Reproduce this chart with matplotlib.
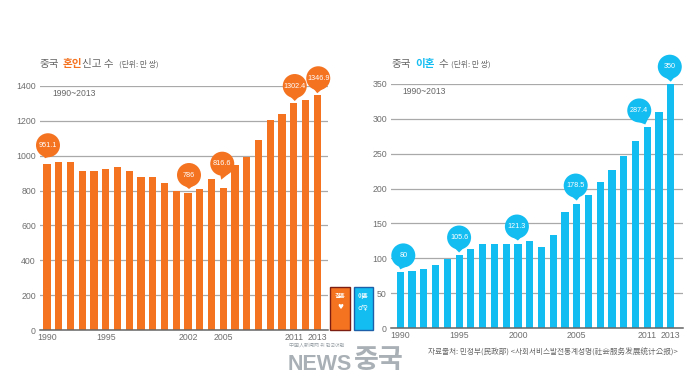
import matplotlib
matplotlib.use("Agg")
import matplotlib.pyplot as plt
from matplotlib.patches import PathPatch, Rectangle
from matplotlib.path import Path
from matplotlib.transforms import Affine2D, ScaledTranslation

W, H = 699, 377
LATIN = ['Liberation Sans', 'Noto Sans CJK KR']
CJK = ['Noto Sans CJK KR', 'DejaVu Sans']
plt.rcParams['font.family'] = LATIN

years = list(range(1990, 2014))
marriages = [951.1, 965, 965, 912, 912, 925, 935, 912, 880, 880, 845, 800,
             786, 810, 867, 816.6, 945, 991, 1090, 1205, 1240, 1302.4, 1320, 1346.9]
divorces = [80, 82, 85, 91, 99, 105.6, 113, 120, 120, 120, 121.3, 125,
            117, 133, 166, 178.5, 191, 210, 227, 247, 268, 287.4, 310, 350]
marriage_ticks = [0, 200, 400, 600, 800, 1000, 1200, 1400]
divorce_ticks = [0, 50, 100, 150, 200, 250, 300, 350]
marriage_years = [1990, 1995, 2002, 2005, 2011, 2013]
divorce_years = [1990, 1995, 2000, 2005, 2011, 2013]
marriage_callouts = {1990: '951.1', 2002: '786', 2005: '816.6', 2011: '1302.4', 2013: '1346.9'}
divorce_callouts = {1990: '80', 1995: '105.6', 2000: '121.3', 2005: '178.5', 2011: '287.4', 2013: '350'}

# pixel offsets (upward) from bar top: circle centre, tail tip
marriage_offsets = {1990: ((1, 19), (-2, 6)), 2002: ((1, 18), (1, 4)), 2005: ((-1, 24), (-2, 8)),
                    2011: ((1, 17), (1, 2)), 2013: ((1, 17), (0, 2))}
divorce_offsets = {1990: ((3, 17), (0, 3)), 1995: ((0, 17), (0, 2)), 2000: ((-1, 17), (0, 3)),
                   2005: ((-1, 18), (0, 3)), 2011: ((-8, 17), (-2, 3)), 2013: ((-1, 17), (0, 2))}

ORANGE = '#f47321'
BLUE = '#13bdf2'
GREY = '#6f6f6f'

fig = plt.figure(figsize=(W / 100, H / 100), dpi=100, facecolor='white')


def fx(px):
    return px / W


def fy(py):
    return 1 - py / H


def panel(left, right, top, bottom, x0, step, ymax, values, color, yticks, xticks, callouts, offsets):
    ax = fig.add_axes([fx(left), fy(bottom), fx(right - left), (bottom - top) / H])
    ax.set_xlim(1990 - (x0 - left) / step, 1990 + (right - x0) / step)
    ax.set_ylim(0, ymax)
    ax.bar(years, values, width=7.2 / step, color=color, zorder=3, linewidth=0)
    ax.set_yticks(yticks)
    ax.set_xticks(xticks)
    ax.tick_params(length=0, labelsize=6.3, labelcolor=GREY, pad=3)
    ax.tick_params(axis='x', pad=2)
    ax.grid(axis='y', color='#a9a9a9', linewidth=0.9, zorder=1)
    ax.set_axisbelow(True)
    for s in ['top', 'left', 'right']:
        ax.spines[s].set_visible(False)
    ax.spines['bottom'].set_color('#666666')
    ax.spines['bottom'].set_linewidth(1.1)
    ax.spines['bottom'].set_zorder(4)
    ax.patch.set_alpha(0)
    for yr, label_text in callouts.items():
        val = values[years.index(yr)]
        (cx, cy), (tx, ty) = offsets[yr]
        anchor = Affine2D() + ScaledTranslation(yr, val, ax.transData)
        r = 12
        circle = Path.circle((cx, cy), r)
        base = cy - r
        if abs(tx - cx) > 3 or cy > 20:
            pts = [(cx - 2, base + 1), (cx + 9, base + 4), (tx, ty), (cx - 2, base + 1)]
        else:
            pts = [(cx - 5, base + 2), (cx + 5, base + 2), (tx, ty), (cx - 5, base + 2)]
        tail = Path(pts, closed=True)
        for p in (circle, tail):
            ax.add_patch(PathPatch(p, transform=anchor, facecolor=color, edgecolor='none', zorder=5, clip_on=False))
        ax.annotate(label_text, xy=(yr, val), xytext=(cx, cy), xycoords='data', textcoords='offset pixels',
                    ha='center', va='center', color='white', fontsize=5.2, zorder=6,
                    annotation_clip=False)
    return ax


panel(40, 328, 86, 330, 47, 11.75, 1400, marriages, ORANGE, marriage_ticks, marriage_years,
      marriage_callouts, marriage_offsets)
panel(391, 683, 83.7, 328.3, 400.3, 11.76, 350, divorces, BLUE, divorce_ticks, divorce_years,
      divorce_callouts, divorce_offsets)


def label(px, py, s, size, color='#666666', fam=CJK, weight='normal', ha='left'):
    fig.text(fx(px), fy(py), s, fontsize=size, color=color, family=fam, weight=weight, ha=ha, va='center')


label(39, 63.5, '중국', 7.6)
label(63, 63.5, '혼인', 7.6, color=ORANGE, weight='bold')
label(82, 63.5, '신고 수', 7.6)
label(119, 64.5, '(단위: 만 쌍)', 5.6)
label(391, 64, '중국', 7.6)
label(415, 64, '이혼', 7.6, color=BLUE, weight='bold')
label(438, 64, '수', 7.6)
label(451, 64.5, '(단위: 만 쌍)', 5.6)
label(52, 94, '1990~2013', 6.2, fam=LATIN)
label(402, 92, '1990~2013', 6.2, fam=LATIN)
label(428, 352, '자료출처: 민정부(民政部) <사회서비스발전통계성명(社会服务发展统计公报)>', 5.5)

# small legend tabs
for x0, x1, face, edge, name, icon in [(330, 350, ORANGE, '#7c1f12', '결혼', '♥'),
                                       (353.5, 373, BLUE, '#1d5fa8', '이혼', '♂♀')]:
    fig.add_artist(Rectangle((fx(x0), fy(330)), fx(x1 - x0), (330 - 287) / H, transform=fig.transFigure,
                             facecolor=face, edgecolor=edge, linewidth=1.0, zorder=2))
    fig.text(fx((x0 + x1) / 2), fy(296), name, color='white', fontsize=4.2, weight='bold', family=CJK,
             ha='center', va='center', zorder=3)
    fig.text(fx((x0 + x1) / 2), fy(307), icon, color='white', fontsize=4.8, family=['DejaVu Sans'],
             ha='center', va='center', zorder=3)

# watermark
WM = '#aab1b6'
label(289, 345.5, '中国人新闻网 위 한국어판', 3.6, color='#9aa2a7')
fig.text(fx(288), fy(369.5), 'NEWS', color=WM, fontsize=15.5, weight='bold', family=LATIN, ha='left', va='baseline')
fig.text(fx(354), fy(368), '중국', color=WM, fontsize=19.5, weight='bold', family=CJK, ha='left', va='baseline')

fig.savefig('out.png', dpi=100, facecolor='white')
